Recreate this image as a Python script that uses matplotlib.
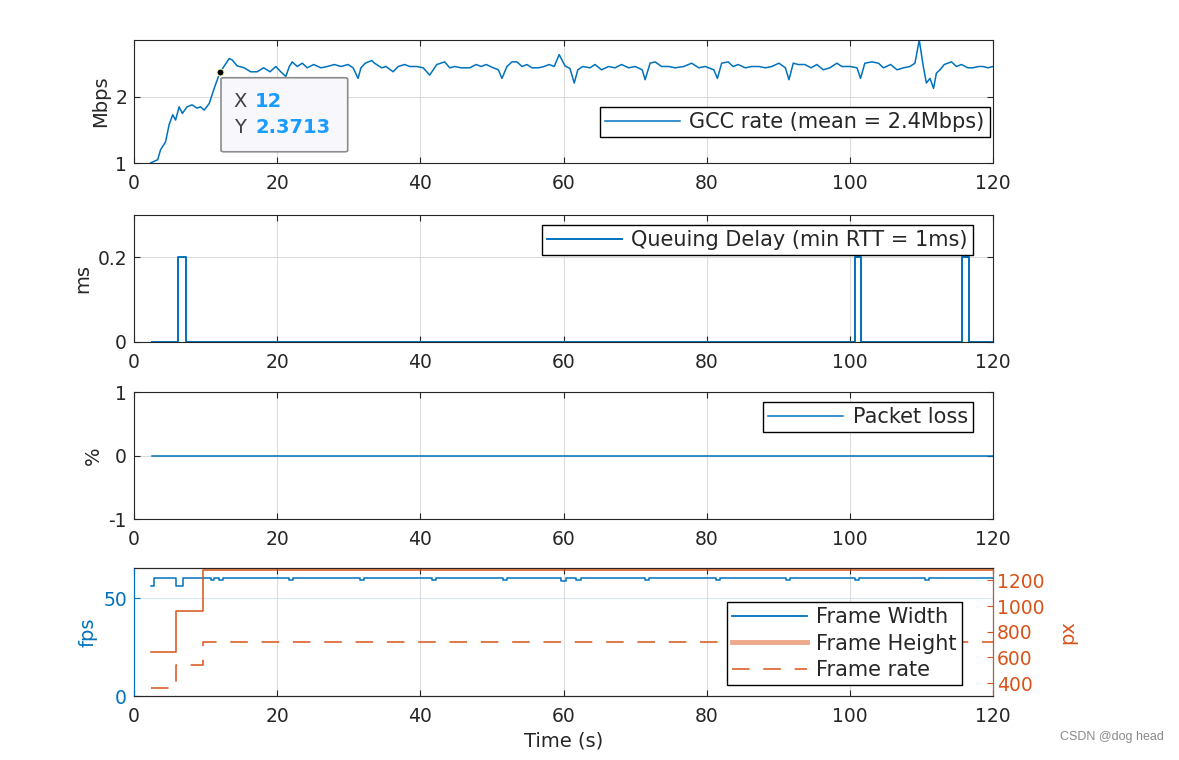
import matplotlib
matplotlib.use('Agg')
import matplotlib.pyplot as plt
from matplotlib.lines import Line2D
from matplotlib.patches import FancyBboxPatch

# GCC sending rate (Mbps)
gcc_t = [2.3, 3.3, 3.7, 4.4, 4.9, 5.4, 5.8, 6.3, 6.75, 7.4, 8.1, 8.8, 9.3, 9.8, 10.5, 11.2, 12.0,
         12.8, 13.3, 13.7, 14.4, 15.4, 16.3, 17.2, 18.1, 19.0, 19.8, 20.5, 21.2, 21.7, 22.1, 22.8,
         23.5, 24.2, 25.1, 26.1, 27.0, 28.0, 28.9, 29.9, 30.6, 31.3, 31.7, 32.3, 33.2, 33.6, 34.6,
         35.2, 36.2, 36.9, 37.8, 38.5, 39.5, 40.4, 41.3, 42.3, 43.4, 44.1, 44.8, 45.7, 46.9, 47.8,
         48.5, 49.2, 50.2, 50.9, 51.4, 52.1, 52.8, 53.5, 54.2, 54.9, 55.6, 56.5, 57.3, 58.0, 58.7,
         59.4, 60.2, 60.9, 61.5, 62.0, 62.7, 63.7, 64.4, 65.3, 66.3, 67.2, 68.1, 69.1, 70.0, 71.0,
         71.4, 72.1, 72.8, 73.7, 74.7, 75.6, 76.8, 77.9, 78.9, 79.8, 81.0, 81.5, 82.1, 83.0, 83.7,
         84.4, 85.4, 86.3, 87.3, 88.2, 89.1, 90.1, 91.0, 91.5, 92.1, 92.8, 93.7, 94.6, 95.4, 96.3,
         97.2, 98.2, 98.9, 100.1, 101.0, 101.5, 102.1, 103.1, 104.0, 104.7, 105.7, 106.6, 107.5,
         108.4, 109.1, 109.7, 110.3, 110.7, 111.2, 111.7, 112.1, 112.6, 113.2, 114.2, 114.9, 115.6,
         116.5, 117.2, 118.0, 118.6, 119.3, 120.0]
gcc_mbps = [1.0, 1.05, 1.2, 1.32, 1.58, 1.73, 1.65, 1.85, 1.75, 1.85, 1.88, 1.83, 1.85, 1.8, 1.9, 2.13, 2.3713,
            2.5, 2.58, 2.56, 2.47, 2.44, 2.38, 2.38, 2.44, 2.38, 2.46, 2.38, 2.31, 2.46, 2.53, 2.46,
            2.51, 2.44, 2.49, 2.44, 2.46, 2.49, 2.46, 2.49, 2.44, 2.28, 2.44, 2.51, 2.55, 2.51, 2.44,
            2.46, 2.38, 2.46, 2.49, 2.46, 2.46, 2.44, 2.33, 2.49, 2.53, 2.44, 2.46, 2.44, 2.44, 2.49,
            2.46, 2.49, 2.44, 2.41, 2.28, 2.46, 2.53, 2.53, 2.46, 2.49, 2.44, 2.44, 2.46, 2.49, 2.46,
            2.64, 2.47, 2.43, 2.21, 2.41, 2.46, 2.44, 2.49, 2.41, 2.46, 2.44, 2.49, 2.44, 2.46, 2.41,
            2.26, 2.51, 2.53, 2.46, 2.46, 2.44, 2.46, 2.51, 2.44, 2.46, 2.41, 2.28, 2.51, 2.53, 2.46,
            2.49, 2.44, 2.46, 2.46, 2.44, 2.46, 2.51, 2.44, 2.26, 2.51, 2.49, 2.49, 2.44, 2.49, 2.41,
            2.44, 2.51, 2.46, 2.46, 2.44, 2.28, 2.51, 2.53, 2.51, 2.44, 2.49, 2.41, 2.44,
            2.46, 2.51, 2.86, 2.44, 2.21, 2.28, 2.13, 2.36, 2.41, 2.49, 2.53, 2.46, 2.49,
            2.44, 2.44, 2.46, 2.46, 2.44, 2.46]

# queuing delay (ms), step data
delay_t = [2.5, 6.2, 7.2, 100.7, 101.5, 115.7, 116.7, 120]
delay_ms = [0, 0.2, 0, 0.2, 0, 0.2, 0, 0]

# packet loss (%)
loss_t = [2.5, 120]
loss_pct = [0, 0]

# frame rate (fps), step data
fps_t = [2.4, 2.8, 5.8, 6.8, 10.8, 11.2, 11.8, 12.4, 21.6, 22.2, 31.5, 32.1, 41.6, 42.2, 51.5, 52.1,
         59.7, 60.3, 61.8, 62.4, 71.4, 72.0, 81.3, 81.9, 91.1, 91.7, 100.7, 101.3, 110.5, 111.1, 120]
fps_val = [56, 60, 56, 60, 59, 60, 59, 60, 59, 60, 59, 60, 59, 60, 59, 60,
           58.5, 60, 59, 60, 59, 60, 59, 60, 59, 60, 59, 60, 59, 60, 60]

# frame size (px)
size_t = [2.4, 5.9, 9.7, 120]
frame_w = [640, 960, 1280, 1280]
frame_h = [360, 540, 720, 720]

BLUE = '#0072BD'
ORANGE = '#D95319'
DARK = '#262626'
GRID = '#dcdcdc'
DASH = (0, (11.5, 9))

plt.rcParams['font.family'] = ['DejaVu Sans']
plt.rcParams['font.size'] = 13
plt.rcParams['axes.unicode_minus'] = False

fig = plt.figure(figsize=(11.79, 7.6), dpi=100)
L, W = 0.1137, 0.7285
ax1 = fig.add_axes([L, 0.7855, W, 0.1618])
ax2 = fig.add_axes([L, 0.5500, W, 0.1671])
ax3 = fig.add_axes([L, 0.3171, W, 0.1671])
ax4 = fig.add_axes([L, 0.0842, W, 0.1684])


def style(ax):
    ax.set_xlim(0, 120)
    ax.set_xticks(range(0, 121, 20))
    ax.grid(True, color=GRID, linewidth=0.8)
    ax.tick_params(direction='in', length=4, width=0.8, colors=DARK, labelsize=13.5,
                   top=True, right=True, pad=5)
    ax.tick_params(axis='x', pad=8)
    for s in ax.spines.values():
        s.set_color(DARK)
        s.set_linewidth(0.8)


def legend(ax, handles, labels, loc, anchor):
    lg = ax.legend(handles, labels, loc=loc, bbox_to_anchor=anchor, borderaxespad=0,
                   fancybox=False, edgecolor='black', framealpha=1, fontsize=15,
                   handlelength=3.6, borderpad=0.25, labelspacing=0.3, handletextpad=0.45)
    lg.get_frame().set_linewidth(1.0)
    for t in lg.get_texts():
        t.set_color(DARK)
    return lg


# panel 1 - GCC rate
style(ax1)
l1, = ax1.plot(gcc_t, gcc_mbps, color=BLUE, lw=1.1)
ax1.set_ylim(1, 2.86)
ax1.set_yticks([1, 2])
ax1.set_ylabel('Mbps', color=DARK, fontsize=14)
legend(ax1, [l1], ['GCC rate (mean = 2.4Mbps)'], 'lower right', (0.9965, 0.21))

# data tip
ax1.plot([12], [2.3713], 'o', color='black', ms=5, mec='#f5f0b0', mew=0.8, zorder=6)
ax1.add_patch(FancyBboxPatch((12.15, 1.17), 17.7, 1.12, boxstyle='round,pad=0,rounding_size=0.4',
                             mutation_aspect=0.05, facecolor='#f8f8fc', edgecolor='#8c8c8c',
                             linewidth=1.2, zorder=6))
ax1.text(13.9, 1.93, 'X', color='#404040', fontsize=14, va='center', zorder=7)
ax1.text(16.9, 1.93, '12', color='#1a9cff', fontsize=14, fontweight='bold', va='center', zorder=7)
ax1.text(13.9, 1.54, 'Y', color='#404040', fontsize=14, va='center', zorder=7)
ax1.text(16.9, 1.54, '2.3713', color='#1a9cff', fontsize=14, fontweight='bold', va='center', zorder=7)

# panel 2 - queuing delay
style(ax2)
l2, = ax2.plot(delay_t, delay_ms, color=BLUE, lw=1.4, drawstyle='steps-post')
ax2.set_ylim(0, 0.3)
ax2.set_yticks([0, 0.2])
ax2.set_yticklabels(['0', '0.2'])
ax2.set_ylabel('ms', color=DARK, fontsize=14)
legend(ax2, [l2], ['Queuing Delay (min RTT = 1ms)'], 'upper right', (0.9767, 0.921))

# panel 3 - packet loss
style(ax3)
l3, = ax3.plot(loss_t, loss_pct, color=BLUE, lw=1.1)
ax3.set_ylim(-1, 1)
ax3.set_yticks([-1, 0, 1])
ax3.set_yticklabels(['-1', '0', '1'])
ax3.set_ylabel('%', color=DARK, fontsize=14)
legend(ax3, [l3], ['Packet loss'], 'upper right', (0.9767, 0.921))

# panel 4 - frame stats with two y axes
style(ax4)
ax4.grid(False)
ax4.xaxis.grid(True, color=GRID, linewidth=0.8)
ax4.axhline(50, color='#d6e6f4', lw=0.8, zorder=0)
ax4.tick_params(axis='y', right=False, colors=BLUE)
ax4.spines['left'].set_color(BLUE)
l4, = ax4.plot(fps_t, fps_val, color=BLUE, lw=1.1, drawstyle='steps-post')
ax4.set_ylim(0, 65.3)
ax4.set_yticks([0, 50])
ax4.set_ylabel('fps', color=BLUE, fontsize=14)
ax4.set_xlabel('Time (s)', color=DARK, fontsize=14, labelpad=4)

ax5 = ax4.twinx()
ax5.set_position(ax4.get_position())
ax5.plot(size_t, frame_w, color=ORANGE, lw=1.1, drawstyle='steps-post', clip_on=False)
ax5.plot(size_t, frame_h, color=ORANGE, lw=1.1, ls=DASH, drawstyle='steps-post')
ax5.set_ylim(300, 1296)
ax5.set_yticks([400, 600, 800, 1000, 1200])
ax5.tick_params(axis='y', direction='in', length=4, width=0.8, colors=ORANGE, labelsize=13.5, pad=3)
for k, s in ax5.spines.items():
    s.set_color(DARK)
    s.set_linewidth(0.8)
ax5.spines['right'].set_color(ORANGE)
ax5.spines['left'].set_color(BLUE)
ax5.set_ylabel('px', color=ORANGE, fontsize=14, labelpad=10)

h_w = Line2D([], [], color=BLUE, lw=1.3)
h_h = Line2D([], [], color=ORANGE, lw=3.5, alpha=0.5)
h_r = Line2D([], [], color=ORANGE, lw=1.1, ls=DASH)
legend(ax5, [h_w, h_h, h_r], ['Frame Width', 'Frame Height', 'Frame rate'], 'lower right',
       (0.964, 0.086))

fig.text(0.987, 0.022, 'CSDN @dog head', ha='right', va='bottom', color='#8a8a8a',
         fontsize=9, family=['Liberation Sans', 'DejaVu Sans'])

fig.savefig('out.png', dpi=100, facecolor='white')
